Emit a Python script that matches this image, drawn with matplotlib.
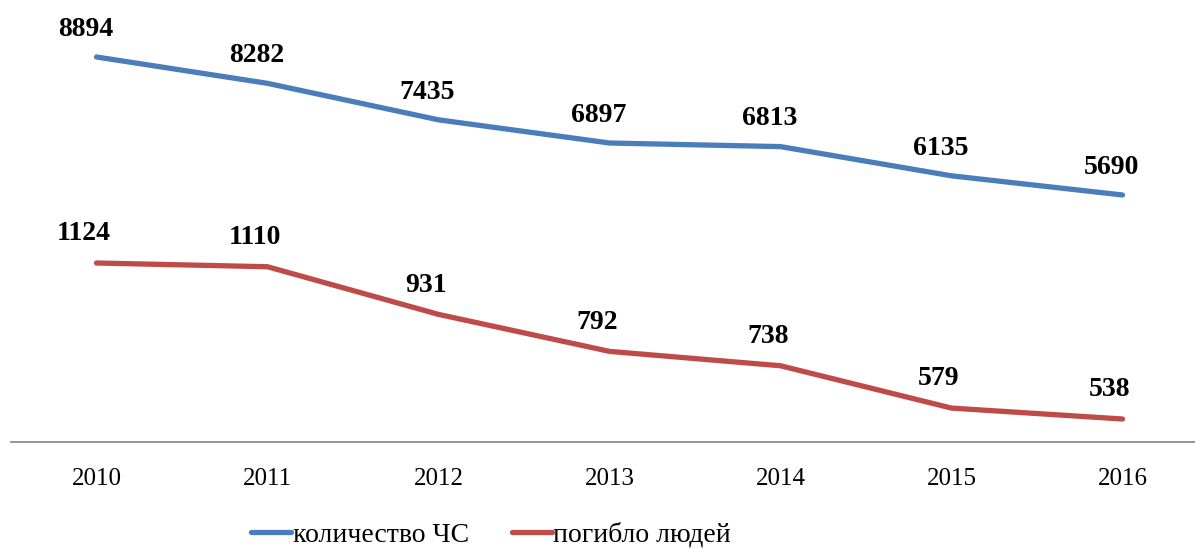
import matplotlib
matplotlib.use("Agg")
import matplotlib.pyplot as plt

years = ["2010", "2011", "2012", "2013", "2014", "2015", "2016"]
emergencies = [8894, 8282, 7435, 6897, 6813, 6135, 5690]
deaths = [1124, 1110, 931, 792, 738, 579, 538]
series_names = ["количество ЧС", "погибло людей"]

plt.rcParams['font.family'] = ['Liberation Serif', 'DejaVu Serif']

W, H = 1195, 549
fig = plt.figure(figsize=(W / 100, H / 100), dpi=100)
left = 11 / W
bottom = 1 - 442 / H
ax = fig.add_axes([left, bottom, 1197 / W, 442 / H])
ax2 = ax.twinx()

blue = '#4A7EBB'
red = '#BE4B48'
x = list(range(len(years)))

l1, = ax.plot(x, emergencies, color=blue, lw=3.8, solid_capstyle='round', label=series_names[0])
l2, = ax2.plot(x, deaths, color=red, lw=3.8, solid_capstyle='round', label=series_names[1])

ax.set_xlim(-0.5, 6.5)
ax.set_ylim(-45, 10217)
ax2.set_ylim(451.6, 2112)

for a in (ax, ax2):
    for s in ('top', 'right', 'left'):
        a.spines[s].set_visible(False)
    a.set_yticks([])
ax2.spines['bottom'].set_visible(False)
ax.spines['bottom'].set_color('#8C8C8C')
ax.spines['bottom'].set_linewidth(1.3)

ax.set_xticks(x)
ax.set_xticklabels(years, fontsize=18)
ax.tick_params(axis='x', length=0, pad=19)

for xi, v in zip(x, emergencies):
    ax.annotate(str(v), (xi, v), xytext=(-8, 20), textcoords='offset points',
                ha='center', va='center', fontsize=20, fontweight='bold')
for xi, v in zip(x, deaths):
    ax2.annotate(str(v), (xi, v), xytext=(-9, 21), textcoords='offset points',
                 ha='center', va='center', fontsize=20, fontweight='bold')

fig.legend(handles=[l1, l2], loc='center', bbox_to_anchor=(491 / W, 1 - 535 / H),
           ncol=2, frameon=False, fontsize=20, handlelength=1.45, handletextpad=0.05,
           columnspacing=1.55, borderaxespad=0, borderpad=0)

fig.savefig('out.png', dpi=100)
